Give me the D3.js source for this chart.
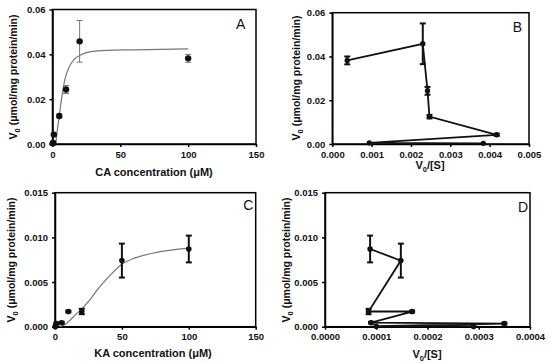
<!DOCTYPE html>
<html><head><meta charset="utf-8">
<script src="https://cdn.jsdelivr.net/npm/d3@7"></script>
<style>body{margin:0;background:#fff}svg{display:block}text{font-family:"Liberation Sans",Arial,sans-serif}</style>
</head><body><svg id="c" width="550" height="363"></svg>
<script>
// Panel A / B : CA
const caConc = [0.1, 0.5, 1, 5, 10, 20, 100];
const caV    = [0.0003, 0.0005, 0.0042, 0.0125, 0.0243, 0.0458, 0.0382];
const caErr  = [0, 0, 0.0005, 0.0008, 0.0018, 0.0093, 0.0018];
const caFitX = [2.4, 3.1, 5, 7, 9, 12, 16, 20.8, 28, 40, 60, 100];
const caFitY = [0, 0.004, 0.0126, 0.0215, 0.0285, 0.034, 0.0378, 0.0397, 0.0412, 0.0418, 0.042, 0.0424];
const caRatio = [0.00384, 0.00094, 0.00418, 0.00247, 0.00242, 0.0023, 0.00038];
// Panel C / D : KA
const kaConc = [0.1, 0.5, 1, 5, 10, 20, 50, 100];
const kaV    = [0.00003, 0.00005, 0.00035, 0.00045, 0.0017, 0.0017, 0.0074, 0.0087];
const kaErr  = [0, 0, 0.0001, 0.0001, 0.0001, 0.0003, 0.0019, 0.0015];
const kaFitX = [3.7, 8, 11, 15, 20, 26, 32, 39, 50, 60, 75, 100];
const kaFitY = [0, 0.0003, 0.0007, 0.0013, 0.002, 0.003, 0.0042, 0.0054, 0.007, 0.0077, 0.0083, 0.0088];
const kaRatio = [0.00029, 0.0001, 0.00035, 0.00009, 0.00017, 0.000085, 0.000148, 0.000088];
// ticks
const concTicks = [0, 50, 100, 150];
const caYTicks = [0, 0.02, 0.04, 0.06];
const caRatioTicks = [0, 0.001, 0.002, 0.003, 0.004, 0.005];
const kaYTicks = [0, 0.005, 0.010, 0.015];
const kaRatioTicks = [0, 0.0001, 0.0002, 0.0003, 0.0004];

const svg = d3.select("#c");

function panel(o) {
  const x = d3.scaleLinear().domain(o.xd).range(o.xr);
  const y = d3.scaleLinear().domain(o.yd).range(o.yr);
  const g = svg.append("g");
  g.append("rect").attr("x", o.xr[0]).attr("y", o.yr[1])
    .attr("width", o.xr[1]-o.xr[0]).attr("height", o.yr[0]-o.yr[1])
    .attr("fill", "none").attr("stroke", "#000").attr("stroke-width", 1.5);
  const ax = g.append("g").attr("transform", `translate(0,${o.yr[0]})`)
    .call(d3.axisBottom(x).tickValues(o.xt).tickFormat(d3.format(o.xf)).tickSize(3).tickSizeOuter(0));
  const ay = g.append("g").attr("transform", `translate(${o.xr[0]},0)`)
    .call(d3.axisLeft(y).tickValues(o.yt).tickFormat(d3.format(o.yf)).tickSize(3).tickSizeOuter(0));
  [ax, ay].forEach(a => {
    a.select(".domain").attr("stroke-width", 1.5);
    a.selectAll(".tick line").attr("stroke-width", 1.5);
    a.selectAll(".tick text").attr("font-size", 9.5).attr("font-weight", "bold")
      .attr("font-family", '"Liberation Sans",Arial,sans-serif').attr("fill", "#111");
  });
  ax.selectAll(".tick text").attr("dy", "0.8em");
  ay.selectAll(".tick text").attr("dx", "-0.1em");

  if (o.fx) {
    const pts = o.fx.map((v, i) => [v, o.fy[i]]);
    g.append("path").datum(pts)
      .attr("d", d3.line().x(d => x(d[0])).y(d => y(d[1])).curve(d3.curveMonotoneX))
      .attr("fill", "none").attr("stroke", "#777").attr("stroke-width", 1.2);
  }
  const data = o.px.map((v, i) => ({x: v, y: o.py[i], e: o.pe[i]}));
  if (o.connect) {
    const seq = data.slice().reverse();
    g.append("path").datum(seq)
      .attr("d", d3.line().x(d => x(d.x)).y(d => y(d.y)))
      .attr("fill", "none").attr("stroke", "#111").attr("stroke-width", 1.8);
  }
  const eb = g.append("g").attr("stroke", o.ec).attr("stroke-width", o.ew).attr("fill", "none");
  data.filter(d => d.e > 0).forEach(d => {
    const cx = x(d.x), y1 = y(d.y + d.e), y0 = y(d.y - d.e);
    eb.append("line").attr("x1", cx).attr("x2", cx).attr("y1", y1).attr("y2", y0);
    eb.append("line").attr("x1", cx-3).attr("x2", cx+3).attr("y1", y1).attr("y2", y1);
    eb.append("line").attr("x1", cx-3).attr("x2", cx+3).attr("y1", y0).attr("y2", y0);
  });
  g.append("g").selectAll("circle").data(data).join("circle")
    .attr("cx", d => x(d.x)).attr("cy", d => y(d.y)).attr("r", o.r).attr("fill", "#111");

  const xt = g.append("text").attr("x", o.xtx).attr("y", o.xty).attr("text-anchor", "middle")
    .attr("font-size", 11).attr("font-weight", "bold").attr("fill", "#111");
  if (o.ratio) {
    xt.append("tspan").text("V");
    xt.append("tspan").attr("font-size", 7.5).attr("dy", 2.5).text("0");
    xt.append("tspan").attr("dy", -2.5).text("/[S]");
  } else xt.text(o.xtitle);
  const yt = g.append("text").attr("transform", `translate(${o.ytx},${o.yty}) rotate(-90)`)
    .attr("text-anchor", "middle").attr("font-size", 10.5).attr("font-weight", "bold").attr("fill", "#111");
  yt.append("tspan").text("V");
  yt.append("tspan").attr("font-size", 7.5).attr("dy", 2.5).text("0");
  yt.append("tspan").attr("dy", -2.5).text(" (μmol/mg protein/min)");
  g.append("text").attr("x", o.lx).attr("y", o.ly).attr("text-anchor", "middle")
    .attr("font-size", 14).attr("fill", "#111").text(o.letter);
}

panel({xd:[0,150], xr:[52.5,256], yd:[0,0.06], yr:[144,9.5], xt:concTicks, xf:"d", yt:caYTicks, yf:".2f",
  fx:caFitX, fy:caFitY, px:caConc, py:caV, pe:caErr, ec:"#777", ew:1, r:3.2,
  xtitle:"CA concentration (μM)", xtx:154, xty:176, ytx:17, yty:77, letter:"A", lx:240.7, ly:29});
panel({xd:[0,0.005], xr:[332.3,529], yd:[0,0.06], yr:[144,12.7], xt:caRatioTicks, xf:".3f", yt:caYTicks, yf:".2f",
  px:caRatio, py:caV, pe:caErr, ec:"#111", ew:2, r:2.7, connect:true, ratio:true,
  xtx:430, xty:169, ytx:300, yty:78, letter:"B", lx:517.3, ly:32});
panel({xd:[0,150], xr:[55,255.7], yd:[0,0.015], yr:[326.7,192.7], xt:concTicks, xf:"d", yt:kaYTicks, yf:".3f",
  fx:kaFitX, fy:kaFitY, px:kaConc, py:kaV, pe:kaErr, ec:"#111", ew:2, r:2.8,
  xtitle:"KA concentration (μM)", xtx:153, xty:357, ytx:15, yty:260, letter:"C", lx:248.3, ly:210});
panel({xd:[0,0.0004], xr:[325,530], yd:[0,0.015], yr:[326.7,192.7], xt:kaRatioTicks, xf:".4f", yt:kaYTicks, yf:".3f",
  px:kaRatio, py:kaV, pe:kaErr, ec:"#111", ew:2, r:2.8, connect:true, ratio:true,
  xtx:427, xty:358, ytx:290, yty:260, letter:"D", lx:523, ly:212});
</script></body></html>
